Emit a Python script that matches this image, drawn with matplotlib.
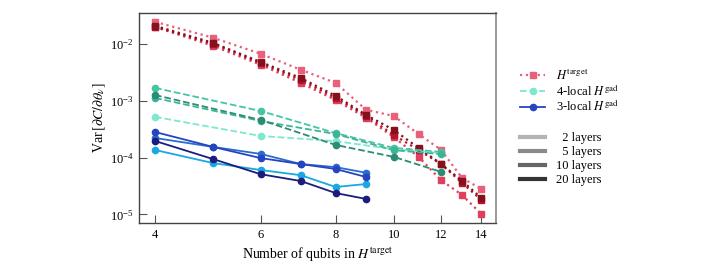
import matplotlib
matplotlib.use("Agg")
import matplotlib.pyplot as plt
from matplotlib.lines import Line2D

plt.rcParams["font.family"] = ["Liberation Serif", "DejaVu Serif"]
plt.rcParams["mathtext.fontset"] = "stix"

# qubit counts
n_target = [4, 5, 6, 7, 8, 9, 10, 11, 12, 13, 14]
n_gad4 = [4, 6, 8, 10, 12]
n_gad3 = [4, 5, 6, 7, 8, 9]

layers = [2, 5, 10, 20]

# Var of gradient, H^target, one list per layer count
target_2 = [2.44e-2, 1.28e-2, 6.7e-3, 3.5e-3, 2.06e-3, 6.9e-4, 5.4e-4, 2.6e-4, 1.36e-4, 4.4e-5, 2.8e-5]
target_5 = [1.99e-2, 9.2e-3, 4.3e-3, 2.06e-3, 1.03e-3, 5.0e-4, 2.3e-4, 1.03e-4, 4.0e-5, 2.2e-5, 1.02e-5]
target_10 = [1.99e-2, 1.0e-2, 4.6e-3, 2.3e-3, 1.12e-3, 5.4e-4, 2.5e-4, 1.36e-4, 7.7e-5, 3.6e-5, 1.8e-5]
target_20 = [2.08e-2, 1.04e-2, 4.8e-3, 2.5e-3, 1.22e-3, 5.6e-4, 3.06e-4, 1.48e-4, 7.7e-5, 3.9e-5, 1.95e-5]

# 4-local gadget Hamiltonian
gad4_2 = [5.2e-4, 2.4e-4, 1.95e-4, 1.4e-4, 1.2e-4]
gad4_5 = [1.68e-3, 6.6e-4, 2.7e-4, 1.48e-4, 1.26e-4]
gad4_10 = [1.12e-3, 4.4e-4, 2.6e-4, 1.35e-4, 1.15e-4]
gad4_20 = [1.26e-3, 4.6e-4, 1.67e-4, 1.03e-4, 5.6e-5]

# 3-local gadget Hamiltonian
gad3_2 = [1.36e-4, 8.0e-5, 6.05e-5, 4.9e-5, 3.04e-5, 3.43e-5]
gad3_5 = [2.21e-4, 1.54e-4, 1.16e-4, 7.7e-5, 6.8e-5, 5.4e-5]
gad3_10 = [2.82e-4, 1.54e-4, 9.8e-5, 7.7e-5, 6.3e-5, 4.55e-5]
gad3_20 = [1.96e-4, 9.4e-5, 5.1e-5, 3.87e-5, 2.38e-5, 1.87e-5]

red = ["#e8607a", "#e0405e", "#b8142e", "#86101c"]
teal = ["#7de8d0", "#45c4a6", "#3db595", "#2a8c74"]
blue = ["#1aa8e2", "#2a6cd0", "#2544c0", "#1c1c7e"]
grey = ["#b4b4b4", "#8a8a8a", "#666666", "#333333"]

fig = plt.figure(figsize=(7.09, 2.74), dpi=100)
ax = fig.add_axes([0.196, 0.186, 0.504, 0.767])

for ys, c in zip([target_2, target_5, target_10, target_20], red):
    ax.plot(n_target, ys, ls=":", lw=1.6, marker="s", ms=5, color=c)
for ys, c in zip([gad4_2, gad4_5, gad4_10, gad4_20], teal):
    ax.plot(n_gad4, ys, ls="--", lw=1.3, marker="o", ms=4.5, color=c)
for ys, c in zip([gad3_2, gad3_5, gad3_10, gad3_20], blue):
    ax.plot(n_gad3, ys, ls="-", lw=1.3, marker="o", ms=4.5, color=c)

ax.set_xscale("log")
ax.set_yscale("log")
ax.set_xlim(3.76, 14.83)
ax.set_ylim(7.06e-6, 3.51e-2)
ax.set_xticks([4, 6, 8, 10, 12, 14])
ax.set_xticklabels(["4", "6", "8", "10", "12", "14"])
ax.xaxis.set_minor_locator(matplotlib.ticker.NullLocator())
ax.set_yticks([1e-5, 1e-4, 1e-3, 1e-2])
ax.yaxis.set_minor_locator(matplotlib.ticker.NullLocator())
ax.tick_params(direction="in", length=6, width=0.8, color="#555555", labelsize=9, pad=4)

for side in ["left", "top", "bottom"]:
    ax.spines[side].set_color("#444444")
    ax.spines[side].set_linewidth(1.0)
ax.spines["right"].set_color("#999999")
ax.spines["right"].set_linewidth(1.4)

ax.set_xlabel(r"Number of qubits in $H^{\mathrm{target}}$", fontsize=10, labelpad=4)
ax.set_ylabel(r"Var$\,[\partial C/\partial \theta_\nu]$", fontsize=10, labelpad=1)

h1 = [
    Line2D([], [], ls=":", lw=1.6, marker="s", ms=5, color=red[0]),
    Line2D([], [], ls="--", lw=1.3, marker="o", ms=4.5, color=teal[0]),
    Line2D([], [], ls="-", lw=1.3, marker="o", ms=4.5, color=blue[2]),
]
lab1 = [r"$H^{\mathrm{target}}$", r"4-local $H^{\mathrm{gad}}$", r"3-local $H^{\mathrm{gad}}$"]
leg1 = ax.legend(h1, lab1, loc="upper left", bbox_to_anchor=(1.053, 0.76), frameon=False,
                 fontsize=9, handlelength=2.0, handletextpad=0.9, labelspacing=0.0, borderaxespad=0)
ax.add_artist(leg1)

h2 = [Line2D([], [], lw=3, color=g) for g in grey]
lab2 = ["  " + str(l) + " layers" if l < 10 else str(l) + " layers" for l in layers]
ax.legend(h2, lab2, loc="upper left", bbox_to_anchor=(1.053, 0.455), frameon=False,
          fontsize=9, handlelength=2.0, handletextpad=0.9, labelspacing=0.15, borderaxespad=0)

fig.savefig("out.png", dpi=100)
